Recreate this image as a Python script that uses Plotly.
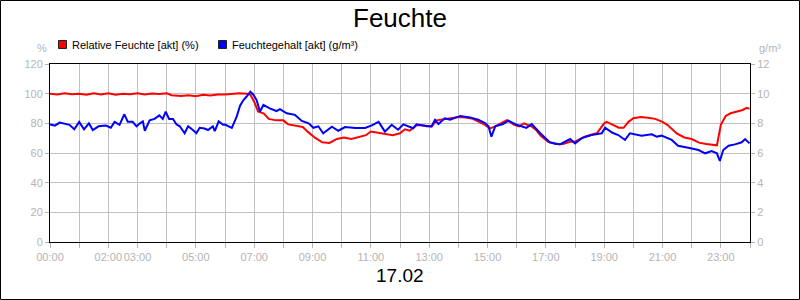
import plotly.graph_objects as go
import pandas as pd

DAY = "2025-02-17 "

rf_times = ["00:00","00:15","00:30","00:45","01:00","01:15","01:30","01:45","02:00","02:15","02:30","02:45",
            "03:00","03:15","03:30","03:45","04:00","04:10","04:30","04:45","05:00","05:15","05:30","05:45",
            "06:00","06:15","06:30","06:45","06:52","07:00","07:08","07:20","07:30","07:45","08:00","08:10",
            "08:25","08:40","08:50","09:05","09:20","09:35","09:50","10:05","10:20","10:35","10:50","11:00",
            "11:15","11:30","11:45","12:00","12:10","12:20","12:35","12:50","13:05","13:15","13:30","13:45",
            "14:00","14:15","14:30","14:45","14:55","15:05","15:15","15:30","15:40","15:55","16:05","16:15",
            "16:30","16:40","16:50","17:05","17:20","17:35","17:50","18:00","18:10","18:20","18:35","18:45",
            "19:00","19:05","19:15","19:30","19:40","19:50","20:00","20:15","20:30","20:45","21:00","21:10",
            "21:30","21:45","22:00","22:15","22:30","22:45","22:52","23:00","23:10","23:20","23:35","23:45",
            "23:53","23:59"]
rf_values = [100,99.5,100.2,99.6,100,99.3,100.3,99.5,100.2,99.2,100,99.6,
             100.3,99.4,100.1,99.7,100.2,98.9,98.5,99,98.3,99.2,98.8,99.5,
             99.5,99.8,100.3,100,99.5,94.6,88,86.5,83,82,82,79.3,
             78.5,77.5,74.4,70.3,67.2,66.8,69.5,70.5,69.5,70.6,72,74.5,
             73.5,72.8,72,73.3,76,75,78.9,78.5,77.7,82,83,83.5,
             84.3,84,83,80.5,79,76.6,77.8,80.5,82.2,79,78,80,
             78,75.5,71.5,67.5,66,66,67.6,67.6,69.5,71,72.5,73.3,
             80,81,79.5,77.1,77,81,83.4,84.3,83.8,83,81,79,
             73,70.5,69.4,67,66,65.5,65.2,79,85,86.8,88.3,89,
             90.5,89.8]

fg_times = ["00:00","00:10","00:20","00:30","00:40","00:50","01:00","01:10","01:20","01:28","01:40","01:55",
            "02:05","02:13","02:23","02:33","02:40","02:50","02:58","03:05","03:11","03:15","03:25","03:35",
            "03:45","03:52","03:58","04:05","04:13","04:20","04:27","04:37","04:44","04:54","05:01","05:08",
            "05:18","05:25","05:35","05:39","05:47","05:56","06:00","06:14","06:24","06:31","06:38","06:44",
            "06:52","06:58","07:05","07:12","07:19","07:32","07:46","07:53","08:07","08:24","08:38","08:52",
            "09:02","09:12","09:22","09:40","09:53","10:07","10:28","10:48","11:02","11:16","11:29","11:43",
            "11:56","12:07","12:27","12:34","12:55","13:05","13:12","13:19","13:32","13:43","14:04","14:24",
            "14:41","14:55","15:02","15:08","15:16","15:32","15:43","16:00","16:20","16:31","16:48","17:08",
            "17:29","17:50","18:00","18:14","18:34","18:55","19:02","19:16","19:29","19:43","19:53","20:17",
            "20:38","20:48","20:58","21:19","21:32","21:53","22:14","22:28","22:41","22:52","22:58","23:05",
            "23:16","23:29","23:43","23:50","23:59"]
fg_values = [7.93,7.85,8.05,8.0,7.9,7.6,8.1,7.6,8.0,7.55,7.8,7.85,
             7.7,8.1,7.9,8.61,8.1,8.1,7.8,8.0,8.13,7.5,8.2,8.3,
             8.54,8.3,8.79,8.3,8.3,7.93,7.8,7.33,7.8,7.55,7.33,7.7,
             7.65,7.55,7.8,7.47,8.13,7.9,7.92,7.7,8.45,9.19,9.57,9.79,
             10.13,9.95,9.57,8.79,9.24,9.01,8.83,8.96,8.68,8.57,8.16,8.0,
             7.7,7.8,7.33,7.77,7.5,7.75,7.69,7.69,7.86,8.1,7.44,7.9,
             7.57,7.93,7.67,7.93,7.8,7.8,8.24,7.95,8.34,8.24,8.5,8.4,
             8.24,8.02,7.8,7.1,7.8,7.95,8.18,7.9,7.69,7.95,7.35,6.72,
             6.58,6.94,6.65,7.0,7.21,7.33,7.71,7.38,7.21,6.88,7.33,7.17,
             7.26,7.1,7.17,6.88,6.49,6.35,6.2,5.98,6.13,5.98,5.46,6.2,
             6.49,6.58,6.72,6.94,6.65]

hour_ticks = [f"{h:02d}:00" for h in range(25)]
shown_labels = {"00:00","02:00","03:00","05:00","07:00","09:00","11:00","13:00","15:00","17:00","19:00","21:00","23:00"}
tick_text = [t if t in shown_labels else "" for t in hour_ticks]
tick_vals = list(pd.date_range(DAY + "00:00", periods=25, freq="h"))

left_ticks = [0, 20, 40, 60, 80, 100, 120]
right_ticks = [0, 2, 4, 6, 8, 10, 12]

rf_name = "Relative Feuchte [akt] (%)"
fg_name = "Feuchtegehalt [akt] (g/m³)"
RED = "#ff0000"
BLUE = "#0000ff"
GRID = "#c0c0c0"
TICKC = "#b4b4b4"
FONT = "Arial, Liberation Sans, sans-serif"

fig = go.Figure()
fig.add_trace(go.Scatter(x=[DAY + t for t in rf_times], y=rf_values, mode="lines",
                         line=dict(color=RED, width=2), showlegend=False, yaxis="y"))
fig.add_trace(go.Scatter(x=[DAY + t for t in fg_times], y=fg_values, mode="lines",
                         line=dict(color=BLUE, width=2), showlegend=False, yaxis="y2"))

L, R, T, B = 50, 50, 64, 58
W, H = 800, 300
pw, ph = W - L - R, H - T - B

def px_x(px):
    return (px - L) / pw

def px_y(py):
    return (H - B - py) / ph

legend_items = [(rf_name, RED, 58), (fg_name, BLUE, 218)]
shapes = [dict(type="rect", xref="paper", yref="paper",
               x0=px_x(0.5), x1=px_x(W - 0.5), y0=px_y(H - 0.5), y1=px_y(0.5),
               line=dict(color="#000000", width=1), fillcolor="rgba(0,0,0,0)", layer="above")]
annotations = [
    dict(text="%", xref="paper", yref="paper", x=px_x(42), y=px_y(48),
         xanchor="center", yanchor="middle", showarrow=False,
         font=dict(size=11, color=TICKC, family=FONT)),
    dict(text="g/m³", xref="paper", yref="paper", x=px_x(770), y=px_y(48),
         xanchor="center", yanchor="middle", showarrow=False,
         font=dict(size=11, color=TICKC, family=FONT)),
    dict(text="17.02", xref="paper", yref="paper", x=0.5, y=px_y(275),
         xanchor="center", yanchor="middle", showarrow=False,
         font=dict(size=19, color="#000000", family=FONT)),
]
for name, col, lx in legend_items:
    shapes.append(dict(type="rect", xref="paper", yref="paper",
                       x0=px_x(lx + 0.5), x1=px_x(lx + 8.5), y0=px_y(48.5), y1=px_y(40.5),
                       line=dict(color="#202020", width=1), fillcolor=col, layer="above"))
    annotations.append(dict(text=name, xref="paper", yref="paper", x=px_x(lx + 12), y=px_y(44.5),
                            xanchor="left", yanchor="middle", showarrow=False,
                            font=dict(size=11, color="#000000", family=FONT)))

fig.update_layout(
    width=W, height=H,
    margin=dict(l=L, r=R, t=T, b=B, pad=0),
    paper_bgcolor="white", plot_bgcolor="white",
    font=dict(family=FONT, color="#000000"),
    title=dict(text="Feuchte", x=0.5, xanchor="center", y=1 - 18 / H, yanchor="middle",
               font=dict(size=26, color="#000000", family=FONT)),
    showlegend=False,
    xaxis=dict(type="date", range=[DAY + "00:00", "2025-02-18 00:00"],
               tickvals=tick_vals, ticktext=tick_text, tickangle=0,
               showgrid=True, gridcolor=GRID, gridwidth=1,
               ticks="outside", ticklen=5, tickcolor=TICKC,
               tickfont=dict(size=11, color=TICKC, family=FONT),
               showline=True, linecolor="#000000", linewidth=1, mirror=True,
               zeroline=False, fixedrange=True),
    yaxis=dict(range=[0, 120], tickvals=left_ticks,
               showgrid=True, gridcolor=GRID, gridwidth=1,
               ticks="outside", ticklen=4, tickcolor=TICKC,
               tickfont=dict(size=11, color=TICKC, family=FONT),
               showline=True, linecolor="#000000", linewidth=1, mirror=True,
               zeroline=False),
    yaxis2=dict(range=[0, 12], tickvals=right_ticks, overlaying="y", side="right",
                showgrid=False, ticks="outside", ticklen=4, tickcolor=TICKC,
                tickfont=dict(size=11, color=TICKC, family=FONT),
                showline=False, zeroline=False),
    annotations=annotations,
    shapes=shapes,
)

fig.write_html("out.html", config={"displayModeBar": False})
